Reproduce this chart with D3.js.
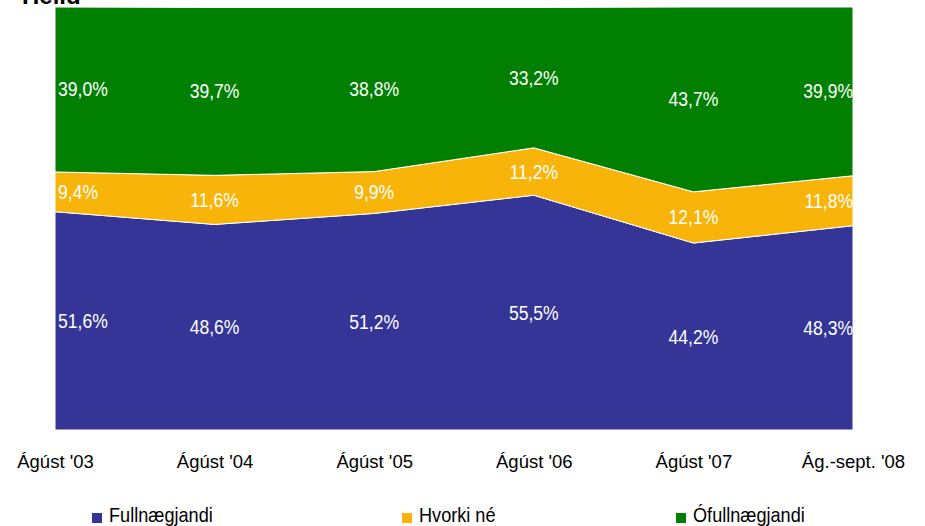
<!DOCTYPE html>
<html>
<head>
<meta charset="utf-8">
<script src="https://cdn.jsdelivr.net/npm/d3@7"></script>
<style>
  body { margin: 0; background: #fff; }
  text { font-family: "Liberation Sans", Arial, sans-serif; }
</style>
</head>
<body>
<svg id="chart" width="925" height="526"></svg>
<script>
// data
var periods = ["Ágúst '03", "Ágúst '04", "Ágúst '05", "Ágúst '06", "Ágúst '07", "Ág.-sept. '08"];
var fullnaegjandi = [51.6, 48.6, 51.2, 55.5, 44.2, 48.3];
var hvorkiNe = [9.4, 11.6, 9.9, 11.2, 12.1, 11.8];
var ofullnaegjandi = [39.0, 39.7, 38.8, 33.2, 43.7, 39.9];
var seriesNames = ["Fullnægjandi", "Hvorki né", "Ófullnægjandi"];
var seriesColors = ["#353597", "#f8b409", "#007f00"];

var svg = d3.select("#chart");
var plotLeft = 55, plotRight = 853, plotTop = 7, plotBottom = 430;

var rows = periods.map(function (p, i) {
  return { period: p, a: fullnaegjandi[i], b: hvorkiNe[i], c: ofullnaegjandi[i] };
});
var keys = ["a", "b", "c"];
var stacked = d3.stack().keys(keys)(rows);

var x = d3.scalePoint().domain(periods).range([plotLeft, plotRight]);
var y = d3.scaleLinear().domain([0, 100]).range([plotBottom, plotTop]);

var area = d3.area()
  .x(function (d) { return x(d.data.period); })
  .y0(function (d) { return y(d[0]); })
  .y1(function (d) { return y(d[1]); });

svg.append("g").selectAll("path")
  .data(stacked)
  .join("path")
  .attr("d", area)
  .style("fill", function (d, i) { return seriesColors[i]; })
  .style("stroke", "#fff")
  .style("stroke-width", 1);

// value labels (font in the original is a bit condensed)
var fmt = function (v) { return v.toFixed(1).replace(".", ",") + "%"; };
stacked.forEach(function (s) {
  svg.append("g").selectAll("text")
    .data(s)
    .join("text")
    .attr("transform", function (d, i) {
      var tx = x(d.data.period) + (i == 0 ? 3 : 0);
      var ty = (y(d[0]) + y(d[1])) / 2 + 7;
      return "translate(" + tx + "," + ty + ") scale(0.9,1)";
    })
    .attr("text-anchor", function (d, i) { return i == 0 ? "start" : (i == periods.length - 1 ? "end" : "middle"); })
    .style("fill", "#fff")
    .style("font-size", "19.5px")
    .text(function (d) { return fmt(d[1] - d[0]); });
});

// x axis labels
var xAxis = d3.axisBottom(x).tickSize(0).tickPadding(0);
svg.append("g")
  .attr("transform", "translate(0," + 454 + ")")
  .call(xAxis)
  .call(function (g) { g.select(".domain").remove(); })
  .selectAll("text")
  .attr("dy", "0.75em")
  .style("font-size", "18.5px")
  .style("font-family", "Liberation Sans, Arial, sans-serif")
  .style("fill", "#000");

// title, mostly cut off at the top
svg.append("text")
  .attr("x", 22).attr("y", 4)
  .style("font-size", "24px").style("font-weight", "bold")
  .text("Heild");

// legend
var legendX = [92, 402, 676];
var legend = svg.append("g").selectAll("g")
  .data(seriesNames)
  .join("g")
  .attr("transform", function (d, i) { return "translate(" + legendX[i] + ",513)"; });
legend.append("rect")
  .attr("width", 10).attr("height", 10)
  .style("fill", function (d, i) { return seriesColors[i]; });
legend.append("text")
  .attr("transform", "translate(17,9) scale(0.93,1)")
  .style("font-size", "19.5px")
  .text(function (d) { return d; });
</script>
</body>
</html>
